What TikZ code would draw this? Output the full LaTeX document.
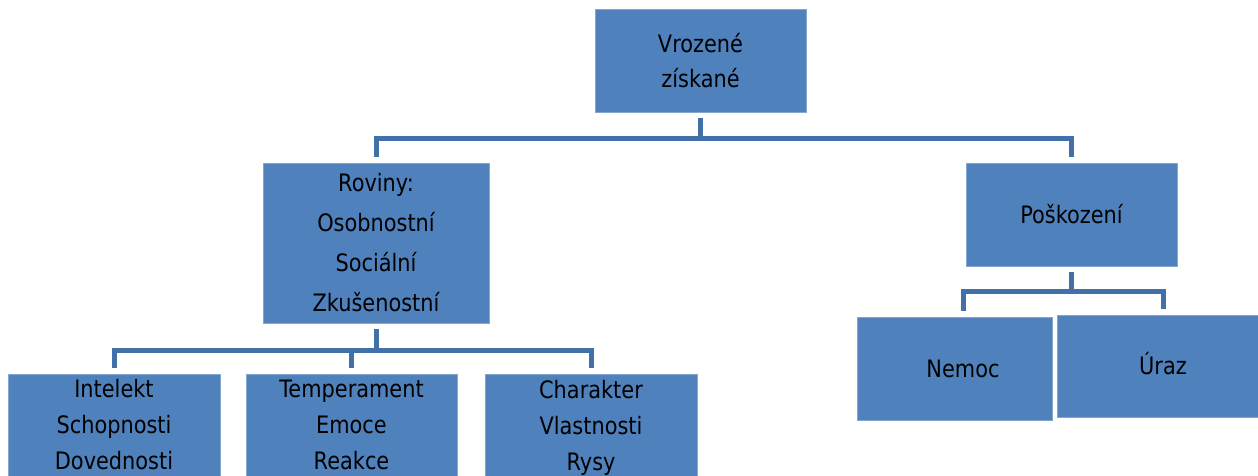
\documentclass[tikz,border=0pt]{standalone}
\usepackage{fontspec}
\setmainfont{DejaVu Sans}[FakeStretch=0.87]
\definecolor{boxblue}{RGB}{79,129,189}
\definecolor{lineblue}{RGB}{66,113,168}

\begin{document}
\begin{tikzpicture}[x=1pt,y=-1pt,font=\fontsize{24}{36}\selectfont,
  box/.style={fill=boxblue,draw=boxblue!70!white,line width=0.8pt,inner sep=0pt,align=center},
  conn/.style={draw=lineblue,line width=5pt}]
\useasboundingbox (0,0) rectangle (1258,475);
\clip (0,0) rectangle (1258,475);
% boxes
\node[box,minimum width=211pt,minimum height=103pt,font=\fontsize{24}{35}\selectfont] (vroz) at (700.5,60.5) {Vrozené\\získané};
\node[box,minimum width=226pt,minimum height=160pt,font=\fontsize{24}{40}\selectfont] (roviny) at (376,243) {Roviny:\\Osobnostní\\Sociální\\Zkušenostní};
\node[box,minimum width=211pt,minimum height=103pt] (poskoz) at (1071.5,214.5) {Poškození};
\node[box,minimum width=212pt,minimum height=102pt] (intel) at (114,425) {Intelekt\\Schopnosti\\Dovednosti};
\node[box,minimum width=211pt,minimum height=102pt] (temper) at (351.5,425) {Temperament\\Emoce\\Reakce};
\node[box,minimum width=212pt,minimum height=102pt] (charak) at (591,425) {Charakter\\Vlastnosti\\\smash{Rysy}};
\node[box,minimum width=195pt,minimum height=103pt,label={[xshift=8.5pt]center:Nemoc}] (nemoc) at (954.5,368.5) {};
\node[box,minimum width=212pt,minimum height=102pt,text height=17pt,text depth=0pt] (uraz) at (1163,366) {Úraz};
% connectors
\coordinate (b1) at (700.5,138);
\coordinate (b2) at (376,350);
\coordinate (b3) at (1071.5,291);
\draw[conn] ([yshift=-6pt]vroz.south) -- (b1) -| ([yshift=6pt]roviny.north);
\draw[conn] (b1) -| ([yshift=6pt]poskoz.north);
\draw[conn] ([yshift=-6pt]roviny.south) -- (b2) -| ([yshift=6pt]intel.north);
\draw[conn] (b2) -| ([yshift=6pt]charak.north);
\draw[conn] (b2 -| temper.north) -- ([yshift=6pt]temper.north);
\draw[conn] ([yshift=-6pt]poskoz.south) -- (b3) -| ([xshift=8.5pt,yshift=6pt]nemoc.north);
\draw[conn] (b3) -| ([yshift=6pt]uraz.north);
\end{tikzpicture}
\end{document}
